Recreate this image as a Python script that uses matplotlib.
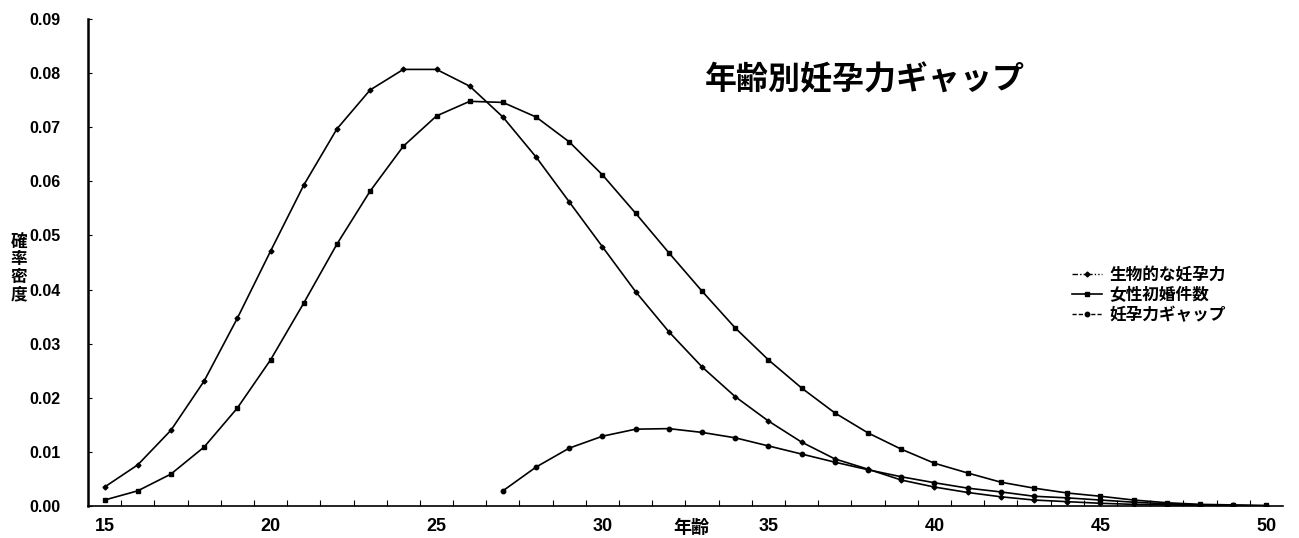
import matplotlib
matplotlib.use("Agg")
import matplotlib.pyplot as plt
from matplotlib.lines import Line2D

plt.rcParams["font.family"] = ["Liberation Sans", "Noto Sans CJK JP"]

# 年齢 (15-50)
ages = list(range(15, 51))

# 生物的な妊孕力
bio = [0.0035, 0.0076, 0.0140, 0.0231, 0.0347, 0.0471, 0.0593, 0.0697, 0.0769, 0.0807,
       0.0807, 0.0776, 0.0719, 0.0645, 0.0562, 0.0479, 0.0396, 0.0322, 0.0257, 0.0202,
       0.0157, 0.0118, 0.0087, 0.0068, 0.0048, 0.0035, 0.0025, 0.0017, 0.0011, 0.0008,
       0.0005, 0.0003, 0.0002, 0.0001, 0.0000, 0.0000]

# 女性初婚件数
female = [0.0011, 0.0028, 0.0059, 0.0109, 0.0181, 0.0270, 0.0375, 0.0484, 0.0582, 0.0665,
          0.0721, 0.0748, 0.0746, 0.0719, 0.0673, 0.0612, 0.0541, 0.0468, 0.0397, 0.0329,
          0.0270, 0.0218, 0.0172, 0.0135, 0.0105, 0.0079, 0.0061, 0.0044, 0.0033, 0.0024,
          0.0018, 0.0011, 0.0006, 0.0003, 0.0002, 0.0001]

# 妊孕力ギャップ (27歳から)
gap_ages = list(range(27, 51))
gap = [0.0028, 0.0072, 0.0107, 0.0129, 0.0142, 0.0143, 0.0136, 0.0126, 0.0111, 0.0096,
       0.0081, 0.0067, 0.0054, 0.0043, 0.0033, 0.0026, 0.0018, 0.0015, 0.0011, 0.0007,
       0.0004, 0.0002, 0.0001, 0.0000]

labels = ["生物的な妊孕力", "女性初婚件数", "妊孕力ギャップ"]
xticks = [15, 20, 25, 30, 35, 40, 45, 50]
yticks = [0.00, 0.01, 0.02, 0.03, 0.04, 0.05, 0.06, 0.07, 0.08, 0.09]

fig = plt.figure(figsize=(12.99, 5.38), dpi=100)
ax = fig.add_axes([0.0677, 0.0595, 0.92, 0.905])

ax.plot(ages, bio, color="black", lw=1.2, marker="D", ms=2.5)
ax.plot(ages, female, color="black", lw=1.2, marker="s", ms=3.5)
ax.plot(gap_ages, gap, color="black", lw=1.2, marker="o", ms=3.2)

ax.set_xlim(14.5, 50.5)
ax.set_ylim(0, 0.09)
ax.set_xticks(xticks)
ax.set_xticklabels([str(t) for t in xticks], fontsize=13, fontweight="bold")
ax.set_xticks([a + 0.5 for a in range(14, 50)], minor=True)
ax.set_yticks(yticks)
ax.set_yticklabels(["%.2f" % t for t in yticks], fontsize=11.5, fontweight="bold")
ax.tick_params(axis="x", which="major", length=0, pad=9)
ax.tick_params(axis="x", which="minor", direction="in", length=4, width=0.8)
ax.tick_params(axis="y", direction="in", length=3, width=0.8, pad=20)

for s in ["top", "right"]:
    ax.spines[s].set_visible(False)
ax.spines["left"].set_linewidth(1.8)
ax.spines["bottom"].set_linewidth(1.2)

handles = [
    Line2D([], [], color="black", lw=1, linestyle=(0, (4, 1.5, 1, 1.5, 1, 1.5)), marker="D", ms=2.5),
    Line2D([], [], color="black", lw=1.2, marker="s", ms=3.5),
    Line2D([], [], color="black", lw=1, linestyle=(0, (3, 1.5)), marker="o", ms=3.2),
]
ax.legend(handles, labels, loc="upper left", bbox_to_anchor=(1072 / 1299, 1 - 266 / 538),
          bbox_transform=fig.transFigure, frameon=False, borderaxespad=0, borderpad=0,
          handlelength=1.8, handletextpad=0.45, labelspacing=0.12,
          prop={"family": ["Noto Sans CJK JP"], "size": 12, "weight": "bold"})

fig.text(865 / 1299, 1 - 80 / 538, "年齢別妊孕力ギャップ", ha="center", va="center",
         fontsize=23, fontweight="bold", family=["Noto Sans CJK JP"])
fig.text(691 / 1299, 1 - 527 / 538, "年齢", ha="center", va="center",
         fontsize=13, fontweight="bold", family=["Noto Sans CJK JP"])
fig.text(19 / 1299, 1 - 268 / 538, "\n".join("確率密度"), ha="center", va="center",
         fontsize=12, fontweight="bold", family=["Noto Sans CJK JP"], linespacing=0.95)

fig.savefig("out.png", dpi=100)
